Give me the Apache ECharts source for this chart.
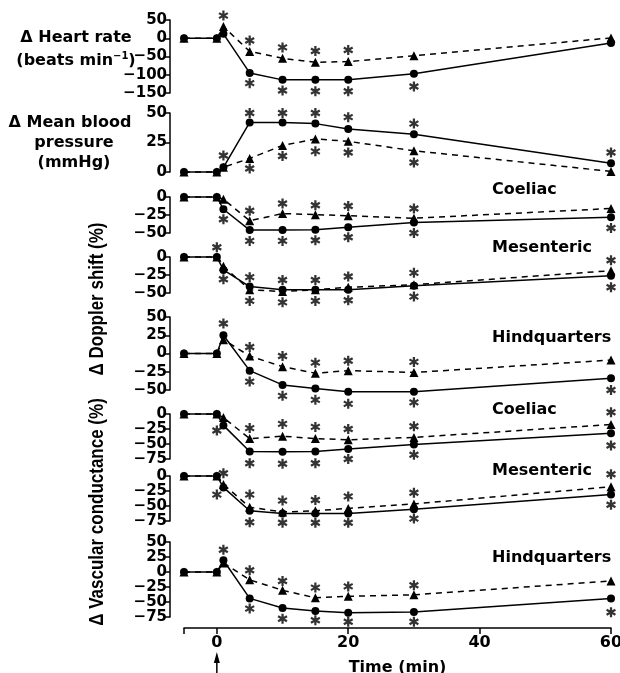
<!DOCTYPE html>
<html lang="en">
<head>
    <meta charset="UTF-8">
    <title>Haemodynamic responses</title>
    <script src="https://cdn.jsdelivr.net/npm/echarts@6.0.0/dist/echarts.min.js"></script>
    <style>
        html, body { margin: 0; padding: 0; background: #fff; }
        #main { width: 620px; height: 673px; }
    </style>
</head>
<body>
<div id="main"></div>
<script type="text/javascript">
    // time points (min)
    const times = [-5, 0, 1, 5, 10, 15, 20, 30, 60]
    const timeTicks = [0, 20, 40, 60]

    // heart rate (beats/min)
    const hrSolid = [0, 0, 12, -95, -114, -114, -114, -97, -13]
    const hrDashed = [0, 0, 32, -36, -55, -66, -64, -48, 1]
    const hrStars = [[1, 62], [5, -6], [10, -25], [15, -35], [20, -32], [5, -123], [10, -143], [15, -145], [20, -145], [30, -132]]

    // mean blood pressure (mmHg)
    const mbpSolid = [0, 0, 4, 42, 42, 41, 36.5, 32, 7.5]
    const mbpDashed = [0, 0, 4, 11.5, 22.5, 28, 26, 18, 0.5]
    const mbpStars = [[1, 14], [5, 50], [10, 50], [15, 50], [20, 46.5], [30, 41], [60, 16.5], [5, 3], [10, 13.5], [15, 17.5], [20, 16.5], [30, 8]]

    // doppler shift (%)
    const dcSolid = [0, 0, -17, -46, -46, -45.5, -42, -35.5, -28]
    const dcDashed = [0, 0, -3, -33, -23, -24.5, -26, -29.5, -16]
    const dcStars = [[5, -19], [10, -9], [15, -11.5], [20, -12.5], [30, -16], [1, -31], [5, -61], [10, -61], [15, -60], [20, -56], [30, -50], [60, -43]]

    const dmSolid = [0, 0, -18, -41, -45.5, -45.5, -45.5, -40, -26]
    const dmDashed = [0, 0, -13, -45.5, -48, -45.5, -42, -38.5, -19]
    const dmStars = [[0, 13.5], [1, -31], [5, -28], [5, -61], [10, -32], [10, -63], [15, -32], [15, -61], [20, -27], [20, -60], [30, -22], [30, -55], [60, -4.5], [60, -42]]

    const dhSolid = [0, 0, 25, -23.5, -43, -48, -52.5, -52.5, -34]
    const dhDashed = [0, 0, 19, -3.5, -18, -27, -23.5, -26, -9]
    const dhStars = [[1, 41], [5, 9], [5, -38.5], [10, -3.5], [10, -58], [15, -12.5], [15, -63.5], [20, -10], [20, -69], [30, -11.5], [30, -67], [60, -50]]

    // vascular conductance (%)
    const vcSolid = [0, 0, -19, -62.5, -63, -62.5, -58.5, -51, -32]
    const vcDashed = [0, 0, -6, -41, -37, -41, -43, -39, -17.5]
    const vcStars = [[0, -27.5], [5, -23.5], [5, -82], [10, -16.5], [10, -83], [15, -21.5], [15, -82], [20, -25], [20, -75], [30, -20.5], [30, -68], [60, 3], [60, -52.5]]

    const vmSolid = [0, 0, -19, -58, -62.5, -62.5, -62.5, -55.5, -31]
    const vmDashed = [0, 0, -14, -52, -60, -58, -54, -46.5, -18]
    const vmStars = [[1, 4.5], [0, -31], [5, -31], [5, -77], [10, -41], [10, -78], [15, -40], [15, -78], [20, -34], [20, -78], [30, -28], [30, -71], [60, 3], [60, -48]]

    const vhSolid = [0, 0, 19.5, -44, -60, -65, -68, -66.5, -44]
    const vhDashed = [0, 0, 15, -13, -30.5, -43, -40.5, -38, -15]
    const vhStars = [[1, 37], [5, 3], [5, -61], [10, -15], [10, -78], [15, -26], [15, -80.5], [20, -24], [20, -83], [30, -22], [30, -83], [60, -67]]

    const panels = [
        { solid: hrSolid, dashed: hrDashed, stars: hrStars, min: -150, max: 50, step: 50, top: 20, bottom: 93 },
        { solid: mbpSolid, dashed: mbpDashed, stars: mbpStars, min: 0, max: 50, step: 25, top: 113, bottom: 172 },
        { solid: dcSolid, dashed: dcDashed, stars: dcStars, min: -50, max: 0, step: 25, top: 197, bottom: 233, label: 'Coeliac' },
        { solid: dmSolid, dashed: dmDashed, stars: dmStars, min: -50, max: 0, step: 25, top: 257, bottom: 293, label: 'Mesenteric' },
        { solid: dhSolid, dashed: dhDashed, stars: dhStars, min: -50, max: 50, step: 25, top: 317, bottom: 390, label: 'Hindquarters' },
        { solid: vcSolid, dashed: vcDashed, stars: vcStars, min: -75, max: 0, step: 25, top: 414, bottom: 459, label: 'Coeliac' },
        { solid: vmSolid, dashed: vmDashed, stars: vmStars, min: -75, max: 0, step: 25, top: 476, bottom: 521, label: 'Mesenteric' },
        { solid: vhSolid, dashed: vhDashed, stars: vhStars, min: -75, max: 50, step: 25, top: 542, bottom: 617, label: 'Hindquarters' }
    ]
    const labelY = [0, 0, 192, 250, 340, 412, 473, 560]

    const FONT = 'DejaVu Sans'
    // six-spoke asterisk
    const star = 'path://M-0.11,-0.5L0.11,-0.5L0.11,0.5L-0.11,0.5Z' +
        'M0.378,-0.345L0.488,-0.155L-0.378,0.345L-0.488,0.155Z' +
        'M-0.488,-0.155L-0.378,-0.345L0.488,0.155L0.378,0.345Z'

    function pairs (vals) {
        return times.map((t, i) => [t, vals[i]])
    }

    var chart = echarts.init(document.getElementById('main'), null, { renderer: 'canvas' })

    var grid = [], xAxis = [], yAxis = [], series = [], graphic = []

    panels.forEach((p, i) => {
        var last = i === panels.length - 1
        grid.push({ left: 184, right: 9, top: p.top, height: p.bottom - p.top, outerBoundsMode: 'none' })
        yAxis.push({
            gridIndex: i, type: 'value', min: p.min, max: p.max, interval: p.step, offset: 14,
            axisLine: { show: true, onZero: false, lineStyle: { color: '#000', width: 1.5 } },
            axisTick: { show: true, length: 5, lineStyle: { color: '#000', width: 1.5 } },
            axisLabel: {
                color: '#000', fontFamily: FONT, fontWeight: 'bold', fontSize: 15, lineHeight: 12, margin: 3,
                showMinLabel: true, showMaxLabel: true, hideOverlap: false,
                formatter: v => String(v).replace('-', '\u2212')
            },
            splitLine: { show: false }
        })
        xAxis.push({
            gridIndex: i, type: 'value', min: -5, max: 60, show: last, offset: last ? 11 : 0,
            axisLine: { onZero: false, lineStyle: { color: '#000', width: 1.5 } },
            axisTick: { customValues: [-5].concat(timeTicks), length: 6, lineStyle: { color: '#000', width: 1.5 } },
            axisLabel: { customValues: timeTicks, color: '#000', fontFamily: FONT, fontWeight: 'bold', fontSize: 16, margin: 7 },
            splitLine: { show: false },
            name: last ? 'Time (min)' : '', nameLocation: 'middle', nameGap: 32,
            nameTextStyle: { color: '#000', fontFamily: FONT, fontWeight: 'bold', fontSize: 16 }
        })
        series.push({
            type: 'line', xAxisIndex: i, yAxisIndex: i, data: pairs(p.dashed), clip: false,
            symbol: 'triangle', symbolSize: 9, itemStyle: { color: '#000' },
            lineStyle: { color: '#000', width: 1.5, type: [6, 5] }, z: 2
        })
        series.push({
            type: 'line', xAxisIndex: i, yAxisIndex: i, data: pairs(p.solid), clip: false,
            symbol: 'circle', symbolSize: 8, itemStyle: { color: '#000' },
            lineStyle: { color: '#000', width: 1.5 }, z: 3
        })
        series.push({
            type: 'scatter', xAxisIndex: i, yAxisIndex: i, data: p.stars, clip: false,
            symbol: star, symbolSize: 10, itemStyle: { color: '#000' }, z: 4
        })
        if (p.label) {
            graphic.push({
                type: 'text', left: 492, top: labelY[i] - 10,
                style: { text: p.label, fill: '#000', font: 'bold 16px "DejaVu Sans"' }
            })
        }
    })

    const txt = 'bold 16px "DejaVu Sans"'
    const side = 'bold 17px "Liberation Sans"'
    graphic.push(
        { type: 'text', x: 76, y: 38, style: { text: '\u0394 Heart rate', fill: '#000', font: txt, align: 'center', verticalAlign: 'middle' } },
        {
            type: 'text', x: 76, y: 61,
            style: {
                text: '(beats min{s|\u22121})', fill: '#000', font: txt, align: 'center', verticalAlign: 'middle',
                rich: { s: { fontSize: 10, fontWeight: 'bold', fontFamily: FONT, padding: [0, 0, 9, 0] } }
            }
        },
        { type: 'text', x: 70, y: 123, style: { text: '\u0394 Mean blood', fill: '#000', font: txt, align: 'center', verticalAlign: 'middle' } },
        { type: 'text', x: 74, y: 143, style: { text: 'pressure', fill: '#000', font: txt, align: 'center', verticalAlign: 'middle' } },
        { type: 'text', x: 74, y: 163, style: { text: '(mmHg)', fill: '#000', font: txt, align: 'center', verticalAlign: 'middle' } },
        { type: 'text', x: 97, y: 299, rotation: Math.PI / 2, scaleY: 1.2, style: { text: '\u0394 Doppler shift (%)', fill: '#000', font: side, align: 'center', verticalAlign: 'middle' } },
        { type: 'text', x: 97, y: 512, rotation: Math.PI / 2, scaleY: 1.2, style: { text: '\u0394 Vascular conductance (%)', fill: '#000', font: side, align: 'center', verticalAlign: 'middle' } }
    )

    var option = {
        backgroundColor: '#fff',
        animation: false,
        grid: grid,
        xAxis: xAxis,
        yAxis: yAxis,
        series: series,
        graphic: graphic
    }
    chart.setOption(option)

    // injection arrow under t = 0
    var ax = chart.convertToPixel({ xAxisIndex: 7 }, 0)
    chart.setOption({
        graphic: graphic.concat([
            { type: 'line', shape: { x1: ax, y1: 662, x2: ax, y2: 673 }, style: { stroke: '#000', lineWidth: 1.5 } },
            { type: 'polygon', shape: { points: [[ax, 652], [ax - 3, 663], [ax + 3, 663]] }, style: { fill: '#000' } }
        ])
    })
</script>
</body>
</html>
